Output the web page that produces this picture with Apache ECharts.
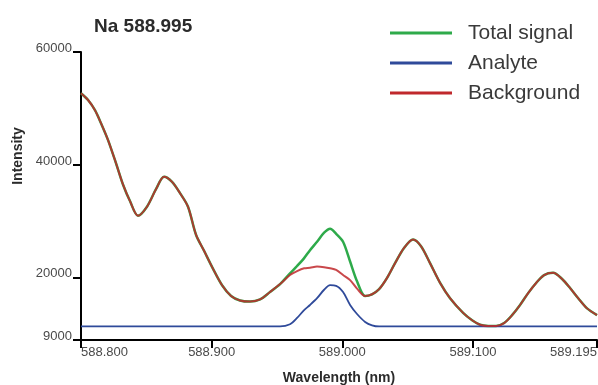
<!DOCTYPE html>
<html>
<head>
<meta charset="utf-8">
<script src="https://cdn.jsdelivr.net/npm/echarts@6.0.0/dist/echarts.min.js"></script>
<style>
body{margin:0;background:#fff;}
#chart01{width:598px;height:385px;}
</style>
</head>
<body>
<div id="chart01"></div>
<script>
// wavelength (nm)
var wavelength = [588.8000, 588.8054, 588.8107, 588.8153, 588.8207, 588.8268, 588.8322, 588.8375, 588.8436, 588.8505,
        588.8574, 588.8636, 588.8697, 588.8758, 588.8819, 588.8881, 588.8942, 588.9011, 588.9080, 588.9149,
        588.9217, 588.9294, 588.9371, 588.9447, 588.9524, 588.9600, 588.9654, 588.9708, 588.9753, 588.9807,
        588.9861, 588.9907, 588.9953, 589.0006, 589.0060, 589.0113, 589.0175, 589.0228, 589.0282, 589.0343,
        589.0404, 589.0473, 589.0542, 589.0603, 589.0672, 589.0749, 589.0825, 589.0925, 589.0994, 589.1055,
        589.1116, 589.1178, 589.1239, 589.1300, 589.1361, 589.1423, 589.1484, 589.1545, 589.1614, 589.1683,
        589.1744, 589.1806, 589.1874, 589.1950];

var totalSignal = [52700, 51500, 49700, 47400, 44400, 40300, 36500, 33600, 31000, 32600,
        35700, 37900, 37000, 35000, 32600, 27600, 24800, 21600, 18700, 16800,
        16000, 15800, 16200, 17500, 18900, 20800, 22100, 23500, 24900, 26400,
        28000, 28700, 27800, 26400, 22900, 19400, 16800, 17100, 18000, 20000,
        22600, 25300, 26800, 25600, 22600, 19100, 16400, 13800, 12500, 11700,
        11500, 11500, 12000, 13400, 15200, 17300, 19100, 20500, 20900, 19800,
        18200, 16400, 14600, 13400];

var analyte = [11400, 11400, 11400, 11400, 11400, 11400, 11400, 11400, 11400, 11400,
        11400, 11400, 11400, 11400, 11400, 11400, 11400, 11400, 11400, 11400,
        11400, 11400, 11400, 11400, 11400, 11800, 12900, 14300, 15200, 16400,
        17900, 18700, 18600, 17500, 15200, 13600, 12200, 11600, 11400, 11400,
        11400, 11400, 11400, 11400, 11400, 11400, 11400, 11400, 11400, 11400,
        11400, 11400, 11400, 11400, 11400, 11400, 11400, 11400, 11400, 11400,
        11400, 11400, 11400, 11400];

var background = [52700, 51500, 49700, 47400, 44400, 40300, 36500, 33600, 31000, 32600,
        35700, 37900, 37000, 35000, 32600, 27600, 24800, 21600, 18700, 16800,
        16000, 15800, 16200, 17500, 18900, 20500, 21200, 21700, 21800, 22000,
        21900, 21700, 21400, 20500, 19600, 18100, 16800, 17100, 18000, 20000,
        22600, 25300, 26800, 25600, 22600, 19100, 16400, 13800, 12500, 11700,
        11500, 11500, 12000, 13400, 15200, 17300, 19100, 20500, 20900, 19800,
        18200, 16400, 14600, 13400];

var xTicks = [588.8, 588.9, 589.0, 589.1, 589.195];
var yTicks = [9000, 20000, 40000, 60000];

function pairs(ys) {
        var out = [];
        for (var i = 0; i < wavelength.length; i++) out.push([wavelength[i], ys[i]]);
        return out;
}

var myChart = echarts.init(document.getElementById('chart01'));

option = {
        animation: false,
        title: {
                text: 'Na 588.995',
                left: 89,
                top: 12,
                textStyle: {fontSize: 19, fontWeight: 'bold', color: '#2b2b2b', fontFamily: 'Liberation Sans'}
        },
        legend: {
                orient: 'vertical',
                left: 390,
                top: 21,
                padding: 0,
                itemGap: 6,
                icon: 'rect',
                itemWidth: 62,
                itemHeight: 3,
                data: ['Total signal', 'Analyte', 'Background'],
                textStyle: {
                        fontSize: 21,
                        lineHeight: 24,
                        color: '#3a3a3a',
                        fontFamily: "'Liberation Sans', Arial",
                        padding: [0, 0, 0, 11]
                }
        },
        grid: {left: 81, right: 1, top: 52, bottom: 45, outerBoundsMode: 'none'},
        xAxis: {
                type: 'value',
                min: 588.8,
                max: 589.195,
                name: 'Wavelength (nm)',
                nameLocation: 'middle',
                nameGap: 31,
                nameTextStyle: {fontSize: 14, fontWeight: 'bold', color: '#2b2b2b', fontFamily: 'Liberation Sans'},
                axisLine: {show: true, lineStyle: {color: '#000', width: 2}},
                axisTick: {show: true, length: 8, customValues: xTicks, lineStyle: {color: '#000', width: 2}},
                axisLabel: {
                        customValues: xTicks,
                        fontSize: 13,
                        color: '#4a4a4a',
                        margin: 6,
                        alignMinLabel: 'left',
                        alignMaxLabel: 'right',
                        formatter: function (v) { return v.toFixed(3); }
                },
                splitLine: {show: false}
        },
        yAxis: {
                type: 'value',
                min: 9000,
                max: 60000,
                axisLine: {show: true, lineStyle: {color: '#000', width: 2}},
                axisTick: {show: true, length: 8, customValues: yTicks, lineStyle: {color: '#000', width: 2}},
                axisLabel: {
                        customValues: yTicks,
                        fontSize: 13,
                        color: '#4a4a4a',
                        margin: 9,
                        verticalAlign: 'bottom',
                        lineHeight: 8,
                        formatter: function (v) { return String(v); }
                },
                splitLine: {show: false}
        },
        graphic: [{
                type: 'text',
                x: 18,
                y: 156,
                rotation: Math.PI / 2,
                style: {
                        text: 'Intensity',
                        font: 'bold 14px "Liberation Sans"',
                        fill: '#2b2b2b',
                        textAlign: 'center',
                        textVerticalAlign: 'middle'
                }
        }],
        series: [
                {
                        name: 'Total signal',
                        type: 'line',
                        showSymbol: false,
                        smooth: 0.3,
                        color: '#2eaa4a',
                        lineStyle: {width: 2.5},
                        data: pairs(totalSignal)
                },
                {
                        name: 'Analyte',
                        type: 'line',
                        showSymbol: false,
                        smooth: 0.3,
                        color: '#2f4a9a',
                        lineStyle: {width: 1.8},
                        data: pairs(analyte)
                },
                {
                        name: 'Background',
                        type: 'line',
                        showSymbol: false,
                        smooth: 0.3,
                        color: '#c0282c',
                        lineStyle: {width: 2, opacity: 0.85},
                        data: pairs(background)
                }
        ]
};

myChart.setOption(option);
</script>
</body>
</html>
